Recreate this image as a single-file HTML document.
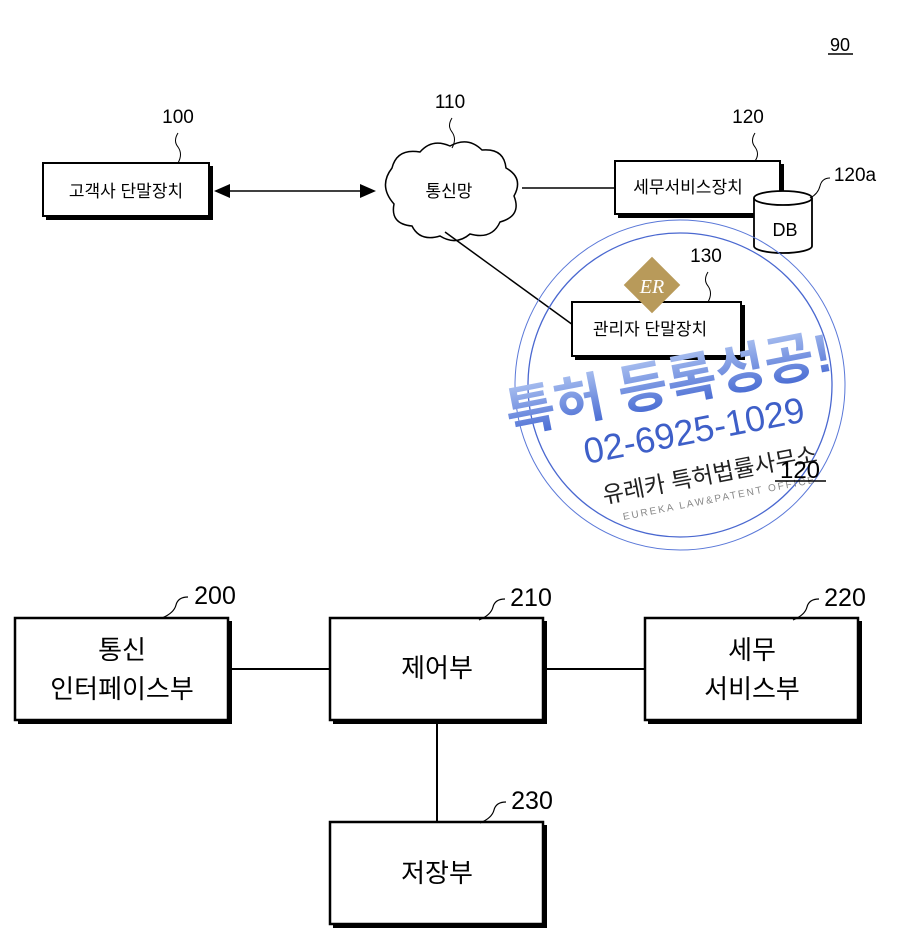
<!DOCTYPE html>
<html><head><meta charset="utf-8"><style>
html,body{margin:0;padding:0;background:#fff;}
svg{display:block;}
text{font-family:"Liberation Sans","Noto Sans CJK KR","NanumGothic",sans-serif;fill:#000;}
</style></head><body>
<svg width="900" height="949" viewBox="0 0 900 949" xmlns="http://www.w3.org/2000/svg">
<defs>
<linearGradient id="wg" x1="0" y1="0" x2="0" y2="1">
<stop offset="0" stop-color="#aac0f0"/><stop offset="1" stop-color="#3f63d0"/>
</linearGradient>
</defs>
<text x="840" y="51" font-size="18" text-anchor="middle">90</text>
<line x1="828" y1="54" x2="853" y2="54" stroke="#000" stroke-width="1.5"/>

<rect x="46" y="166" width="167" height="54" fill="#000"/>
<rect x="43" y="163" width="166" height="53" fill="#fff" stroke="#000" stroke-width="2"/>
<text x="126" y="197" font-size="17" text-anchor="middle">고객사 단말장치</text>
<text x="178" y="123" font-size="19" text-anchor="middle">100</text>
<path d="M178 133 q-5 8 0 14 q5 7 0 16" fill="none" stroke="#000" stroke-width="1"/>

<line x1="228" y1="191" x2="362" y2="191" stroke="#000" stroke-width="1.5"/>
<polygon points="214,191 230,184 230,198" fill="#000"/>
<polygon points="376,191 360,184 360,198" fill="#000"/>

<path d="M392 168 q5-20 28-16 q12-14 30-6 q18-10 32 4 q22-2 24 18 q18 10 8 28 q8 20-14 26 q-8 18-30 12 q-14 12-30 2 q-20 6-28-10 q-22-2-18-22 q-16-18 -2-36 z" fill="#fff" stroke="#000" stroke-width="1.5"/>
<text x="449" y="197" font-size="17" text-anchor="middle">통신망</text>
<text x="450" y="108" font-size="19" text-anchor="middle">110</text>
<path d="M452 118 q-5 8 0 14 q5 7 0 16" fill="none" stroke="#000" stroke-width="1"/>

<line x1="522" y1="188" x2="615" y2="188" stroke="#000" stroke-width="1.5"/>
<line x1="445" y1="232" x2="573" y2="325" stroke="#000" stroke-width="1.5"/>

<rect x="618" y="164" width="166" height="54" fill="#000"/>
<rect x="615" y="161" width="165" height="53" fill="#fff" stroke="#000" stroke-width="2"/>
<text x="688" y="193" font-size="17" text-anchor="middle">세무서비스장치</text>
<text x="748" y="123" font-size="19" text-anchor="middle">120</text>
<path d="M755 133 q-5 8 0 14 q5 7 0 14" fill="none" stroke="#000" stroke-width="1"/>

<path d="M754 198 v48 a29 7 0 0 0 58 0 v-48" fill="#fff" stroke="#000" stroke-width="1.8"/>
<ellipse cx="783" cy="198" rx="29" ry="7" fill="#fff" stroke="#000" stroke-width="1.8"/>
<text x="785" y="236" font-size="18" text-anchor="middle">DB</text>
<text x="855" y="181" font-size="19" text-anchor="middle">120a</text>
<path d="M830 178 q-8 0-10 8 q-2 8-10 12" fill="none" stroke="#000" stroke-width="1"/>

<rect x="575" y="305" width="170" height="55" fill="#000"/>
<rect x="572" y="302" width="169" height="54" fill="#fff" stroke="#000" stroke-width="2"/>
<text x="650" y="335" font-size="17" text-anchor="middle">관리자 단말장치</text>
<text x="706" y="262" font-size="19" text-anchor="middle">130</text>
<path d="M708 272 q-5 8 0 14 q5 7 0 16" fill="none" stroke="#000" stroke-width="1"/>

<circle cx="680" cy="385" r="165" fill="none" stroke="#5a78d8" stroke-width="1"/>
<circle cx="680" cy="385" r="152" fill="none" stroke="#4a68d0" stroke-width="1.3"/>
<g transform="translate(652,285) rotate(45)">
<rect x="-20" y="-20" width="40" height="40" fill="#b89a5a"/></g>
<text x="652" y="293" font-size="20" text-anchor="middle" font-style="italic" style="fill:#fff;font-family:'Liberation Serif',serif">ER</text>
<g transform="rotate(-11 680 400)">
<text x="672" y="400" font-size="54" font-weight="bold" text-anchor="middle" style="fill:url(#wg)">특허 등록성공!</text>
<text x="688" y="445" font-size="36" text-anchor="middle" style="fill:#3e5fc8">02-6925-1029</text>
<text x="695" y="487" font-size="23" text-anchor="middle" style="fill:#222">유레카 특허법률사무소</text>
<text x="700" y="507" font-size="10" text-anchor="middle" letter-spacing="2" style="fill:#888">EUREKA LAW&amp;PATENT OFFICE</text>
</g>
<text x="800" y="478" font-size="24" text-anchor="middle">120</text>
<line x1="775" y1="481" x2="826" y2="481" stroke="#000" stroke-width="1.5"/>

<rect x="18" y="621" width="214" height="103" fill="#000"/>
<rect x="15" y="618" width="213" height="102" fill="#fff" stroke="#000" stroke-width="2.5"/>
<text x="122" y="659" font-size="26" text-anchor="middle">통신</text>
<text x="122" y="698" font-size="26" text-anchor="middle">인터페이스부</text>

<rect x="333" y="621" width="214" height="103" fill="#000"/>
<rect x="330" y="618" width="213" height="102" fill="#fff" stroke="#000" stroke-width="2.5"/>
<text x="437" y="677" font-size="26" text-anchor="middle">제어부</text>

<rect x="648" y="621" width="214" height="103" fill="#000"/>
<rect x="645" y="618" width="213" height="102" fill="#fff" stroke="#000" stroke-width="2.5"/>
<text x="752" y="659" font-size="26" text-anchor="middle">세무</text>
<text x="752" y="698" font-size="26" text-anchor="middle">서비스부</text>

<rect x="333" y="825" width="214" height="103" fill="#000"/>
<rect x="330" y="822" width="213" height="102" fill="#fff" stroke="#000" stroke-width="2.5"/>
<text x="437" y="882" font-size="26" text-anchor="middle">저장부</text>

<line x1="230" y1="669" x2="330" y2="669" stroke="#000" stroke-width="2"/>
<line x1="545" y1="669" x2="645" y2="669" stroke="#000" stroke-width="2"/>
<line x1="437" y1="722" x2="437" y2="822" stroke="#000" stroke-width="2"/>

<text x="215" y="604" font-size="25" text-anchor="middle">200</text>
<path d="M188 597 q-10 0-12 8 q-2 8-14 13" fill="none" stroke="#000" stroke-width="1.2"/>
<text x="531" y="606" font-size="25" text-anchor="middle">210</text>
<path d="M505 599 q-10 0-12 8 q-2 8-14 13" fill="none" stroke="#000" stroke-width="1.2"/>
<text x="845" y="606" font-size="25" text-anchor="middle">220</text>
<path d="M819 599 q-10 0-12 8 q-2 8-14 13" fill="none" stroke="#000" stroke-width="1.2"/>
<text x="532" y="809" font-size="25" text-anchor="middle">230</text>
<path d="M506 802 q-10 0-12 8 q-2 8-14 13" fill="none" stroke="#000" stroke-width="1.2"/>
</svg>
</body></html>
